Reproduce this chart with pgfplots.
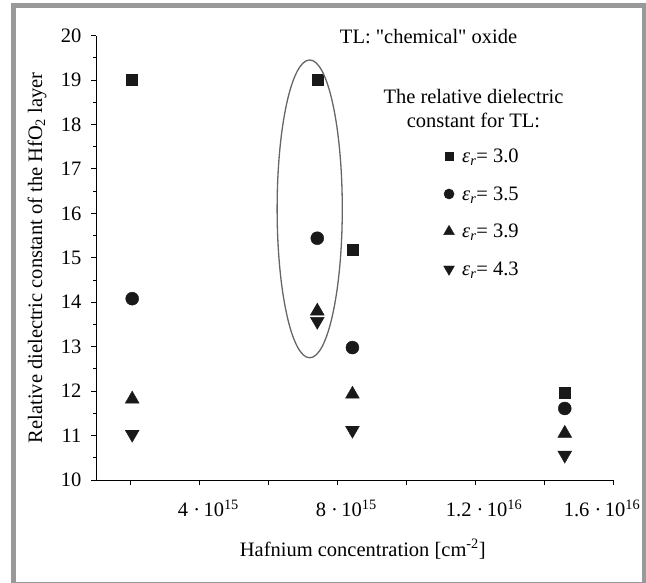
\documentclass[border=0pt]{standalone}
\usepackage{fontspec}
\setmainfont{Liberation Serif}[Ligatures=TeXOff]
\usepackage{pgfplots}
\pgfplotsset{compat=1.18}
\usetikzlibrary{calc}

\pgfplotstableread{
x y
2.05e15 19.0
7.42e15 19.0
8.44e15 15.18
14.6e15 11.97
}\sqdata
\pgfplotstableread{
x y
2.05e15 14.08
7.42e15 15.44
8.44e15 12.98
14.6e15 11.61
}\circdata
\pgfplotstableread{
x y
2.05e15 11.82
7.42e15 13.80
8.44e15 11.93
14.6e15 11.05
}\tridata
\pgfplotstableread{
x y
2.05e15 11.03
7.42e15 13.57
8.44e15 11.12
14.6e15 10.56
}\tridowndata

\begin{document}
\begin{tikzpicture}[font=\fontsize{20.5bp}{24bp}\selectfont]
\begin{axis}[
  scale only axis, width=517bp, height=444.5bp,
  xmin=1e15, xmax=1.6e16, ymin=10, ymax=20,
  axis lines*=left,
  axis line style={line width=1bp, black},
  scaled x ticks=false,
  xtick={2e15,4e15,6e15,8e15,1e16,1.2e16,1.4e16,1.6e16},
  xticklabels={{},{4~·\,10\textsuperscript{15}},{},{8~·\,10\textsuperscript{15}},{},{1.2~·\,10\textsuperscript{16}},{},{\hspace*{-40bp}1.6~·\,10\textsuperscript{16}}},
  ytick={10,11,...,20}, minor y tick num=1,
  tick align=outside, major tick length=5bp, minor tick length=3bp,
  tick style={black, line width=0.8bp},
  /pgf/number format/assume math mode=true,
  yticklabel style={xshift=-6bp},
  xticklabel style={yshift=-11bp, xshift=9bp},
  xlabel={Hafnium concentration [cm\textsuperscript{-2}]},
  ylabel={Relative dielectric constant of the HfO\textsubscript{2} layer},
  xlabel style={at={(axis description cs:0.516,-0.155)}, anchor=center},
  ylabel style={at={(axis description cs:-0.1141,0.5)}, anchor=center},
  only marks,
  legend image code/.code={\draw[#1,/tikz/every mark/.append style={scale=0.78}] plot coordinates {(0bp,0bp)}; \path (11bp,0bp);},
  legend style={draw=none, fill=none, at={(axis description cs:0.672,0.75)}, anchor=north west,
    inner sep=0pt, row sep=18.5bp, cells={anchor=west}},
  clip=false,
]
\addplot[mark=square*, mark size=5.5bp, black!90] table[x=x,y=y] {\sqdata};
\addlegendentry{{\itshape ε\textsubscript{r}}= 3.0}
\addplot[mark=*, mark size=6.5bp, black!90] table[x=x,y=y] {\circdata};
\addlegendentry{{\itshape ε\textsubscript{r}}= 3.5}
\addplot[mark=triangle*, mark size=8bp, black!90] table[x=x,y=y] {\tridata};
\addlegendentry{{\itshape ε\textsubscript{r}}= 3.9}
\addplot[mark=triangle*, mark size=8bp, mark options={rotate=180}, black!90] table[x=x,y=y] {\tridowndata};
\addlegendentry{{\itshape ε\textsubscript{r}}= 4.3}

\node at (axis cs:10.65e15,19.97) {TL: "chemical" oxide};
\node[align=center] at (axis cs:11.95e15,18.35) {The relative dielectric\\constant for TL:};

\coordinate (ec) at (axis cs:7.2e15,16.1);
\coordinate (er) at (axis cs:8.145e15,19.45);
\coordinate (fTL) at (axis description cs:-0.1596,1.0675);
\coordinate (fBR) at (axis description cs:1.0600,-0.236);
\coordinate (bTL) at (axis description cs:-0.1857,1.0799);
\coordinate (bBR) at (axis description cs:1.0638,-0.2295);
\end{axis}
\draw[black!60, line width=1.3bp] let \p1=(ec), \p2=(er) in (ec) ellipse [x radius={\x2-\x1}, y radius={\y2-\y1}];
\draw[black!40, line width=5bp] (fTL) rectangle (fBR);
\pgfresetboundingbox
\path[use as bounding box] (bTL) rectangle (bBR);
\end{tikzpicture}
\end{document}
